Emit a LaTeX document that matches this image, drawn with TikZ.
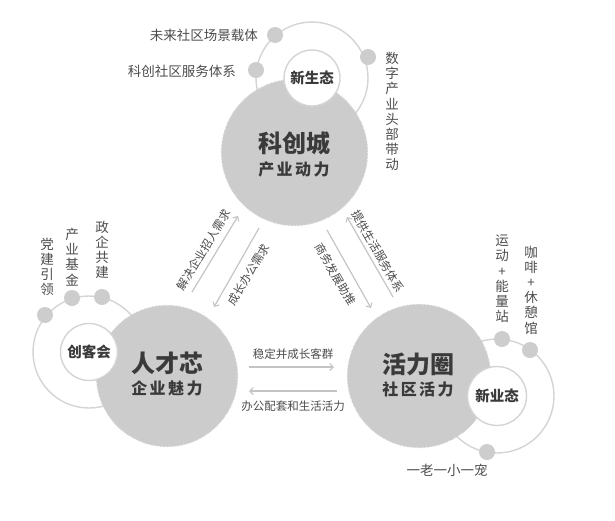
\documentclass[tikz,border=0pt]{standalone}
\usepackage{fontspec}
\newfontfamily\cjk{Noto Sans CJK SC}
\usetikzlibrary{arrows.meta,decorations.pathmorphing}
\definecolor{bigfill}{HTML}{CCCCCC}
\definecolor{ringc}{HTML}{D4D4D4}
\definecolor{dotc}{HTML}{CDCDCD}
\definecolor{txtdark}{HTML}{3A3A3A}
\definecolor{txtlab}{HTML}{4C4C4C}
\definecolor{arrc}{HTML}{C4C4C4}
\begin{document}
\begin{tikzpicture}[x=1pt,y=-1pt,
  bigcirc/.style={circle, fill=bigfill, draw=bigfill, line width=0.5pt, inner sep=0pt, minimum size=#1,
     decorate, decoration={zigzag, segment length=1.4pt, amplitude=0.7pt}},
  whitecirc/.style={circle, fill=white, draw=ringc, line width=1.4pt, inner sep=0pt, minimum size=#1,
     font=\cjk\fontsize{14.5}{16}\selectfont\bfseries, text=txtdark},
  ring/.style={draw=ringc, line width=1.4pt},
  dot/.style={circle, fill=dotc, inner sep=0pt, minimum size=16pt},
  titletxt/.style={font=\cjk\fontsize{24}{26}\selectfont\bfseries, text=txtdark, inner sep=0pt},
  subtxt/.style={font=\cjk\fontsize{16}{18}\selectfont\bfseries, text=txtdark, inner sep=0pt},
  lab/.style={font=\cjk\fontsize{13.5}{15}\selectfont, text=txtlab, inner sep=0pt},
  vlab/.style={font=\cjk\fontsize{13.5}{15.2}\selectfont, text=txtlab, inner sep=0pt, align=center},
  arrlab/.style={font=\cjk\fontsize{11.5}{13}\selectfont, text=txtlab, inner sep=0pt},
  arr/.style={draw=arrc, line width=1.2pt, -{Straight Barb[length=3.5pt,width=7pt,line width=1.1pt]}}
]
\useasboundingbox (0,0) rectangle (615,520);

% ---- centres of the small clusters
\coordinate (ecoA) at (312,78);
\coordinate (ecoB) at (89,352);
\coordinate (ecoC) at (497,396);

% ---- rings
\draw[ring] (ecoA) circle[radius=56];
\draw[ring] (ecoB) circle[radius=56];
\draw[ring] (ecoC) circle[radius=57];

% ---- dots on rings
\node[dot] (dA1) at (275,35) {};
\node[dot] (dA2) at (256,70) {};
\node[dot] (dA3) at (368,57) {};
\node[dot] (dB1) at (45,315) {};
\node[dot] (dB2) at (72,298) {};
\node[dot] (dB3) at (102,297) {};
\node[dot] (dC1) at (502,339) {};
\node[dot] (dC2) at (530,350) {};
\node[dot] (dC3) at (487,452) {};

% ---- big circles
\node[bigcirc=145pt] (kc) at (294.5,152.5) {};
\node[bigcirc=140pt] (rc) at (167,376) {};
\node[bigcirc=142pt] (hl) at (419,376) {};

% ---- white circles
\node[whitecirc=56pt] (xst) at (ecoA) {新生态};
\node[whitecirc=57pt] (ckh) at (ecoB) {创客会};
\node[whitecirc=59pt] (xyt) at (ecoC) {新业态};

% ---- titles
\node[titletxt] (kct) at (294,143) {科创城};
\node[subtxt] (kcs) at (294,169) {产\hspace{2.5pt}业\hspace{2.5pt}动\hspace{2.5pt}力};
\node[titletxt] (rct) at (167,363) {人才芯};
\node[subtxt] (rcs) at (167,388) {企\hspace{2.5pt}业\hspace{2.5pt}魅\hspace{2.5pt}力};
\node[titletxt] (hlt) at (418,364) {活力圈};
\node[subtxt] (hls) at (418,389) {社\hspace{2.5pt}区\hspace{2.5pt}活\hspace{2.5pt}力};

% ---- labels of dots
\node[lab, anchor=east] (lA1) at (258,35) {未来社区场景载体};
\node[lab, anchor=east] (lA2) at (236,71) {科创社区服务体系};
\node[vlab] (lA3) at (392,111.5) {数\\字\\产\\业\\头\\部\\带\\动};
\node[vlab] (lB1) at (47,267) {党\\建\\引\\领};
\node[vlab] (lB2) at (72,257) {产\\业\\基\\金};
\node[vlab] (lB3) at (102,250) {政\\企\\共\\建};
\node[vlab] (lC1) at (502,279) {运\\动\\+\\能\\量\\站};
\node[vlab] (lC2) at (531,290) {咖\\啡\\+\\休\\憩\\馆};
\node[lab] (lC3) at (447,470) {一老一小一宠};

% ---- arrows between 人才芯 and 活力圈
\coordinate (h1s) at (249,367);
\coordinate (h1e) at (334,367);
\coordinate (h2s) at (337,391);
\coordinate (h2e) at (249,391);
\draw[arr] (h1s) -- (h1e);
\draw[arr] (h2s) -- (h2e);
\node[arrlab] (t1) at (293,354) {稳定并成长客群};
\node[arrlab] (t2) at (293,406) {办公配套和生活活力};

% ---- arrows between 科创城 and 人才芯
\coordinate (l1s) at (192,292);
\coordinate (l1e) at (238,216);
\coordinate (l2s) at (259,228);
\coordinate (l2e) at (214,307);
\draw[arr] (l1s) -- (l1e);
\draw[arr] (l2s) -- (l2e);
\node[arrlab, rotate=59] (t3) at (203.5,250) {解决企业招人需求};
\node[arrlab, rotate=59] (t4) at (248.5,274.5) {成长办公需求};

% ---- arrows between 科创城 and 活力圈
\coordinate (r1s) at (393,297);
\coordinate (r1e) at (347,217);
\coordinate (r2s) at (327,230);
\coordinate (r2e) at (371,308);
\draw[arr] (r1s) -- (r1e);
\draw[arr] (r2s) -- (r2e);
\node[arrlab, rotate=-60] (t5) at (378,251) {提供生活服务体系};
\node[arrlab, rotate=-60] (t6) at (335.5,274.5) {商务发展助推};
\end{tikzpicture}
\end{document}
